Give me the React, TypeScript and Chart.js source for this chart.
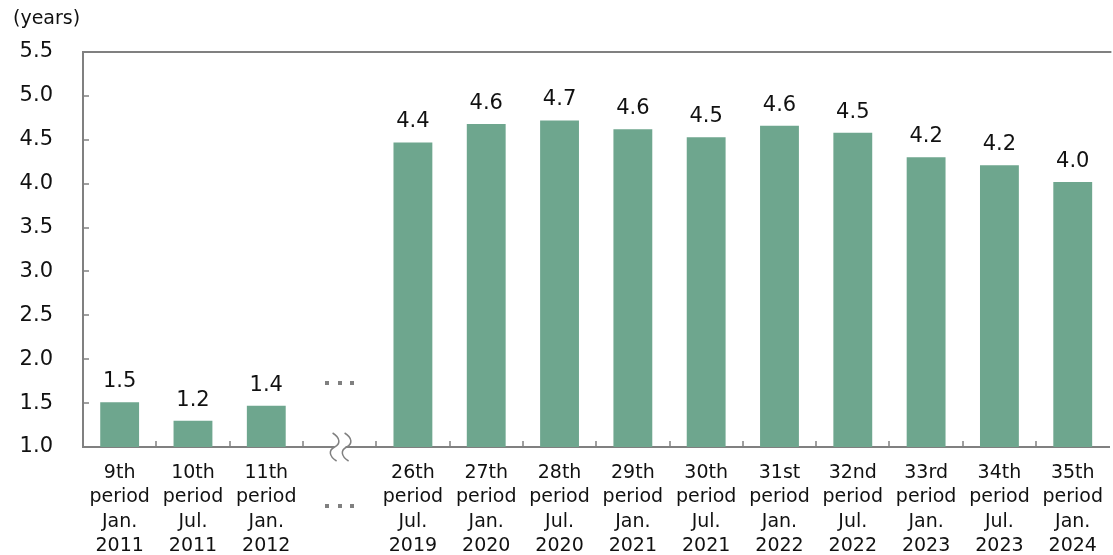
import React, { useEffect, useRef } from "react";
import { Chart, registerables } from "chart.js";

Chart.register(...registerables);

// ---- data ----
const periodLabels = ["9th", "10th", "11th", "", "26th", "27th", "28th", "29th", "30th", "31st", "32nd", "33rd", "34th", "35th"];
const monthLabels = ["Jan.", "Jul.", "Jan.", "", "Jul.", "Jan.", "Jul.", "Jan.", "Jul.", "Jan.", "Jul.", "Jan.", "Jul.", "Jan."];
const yearLabels = ["2011", "2011", "2012", "", "2019", "2020", "2020", "2021", "2021", "2022", "2022", "2023", "2023", "2024"];
const values: (number | null)[] = [1.51, 1.3, 1.47, null, 4.47, 4.68, 4.72, 4.62, 4.53, 4.66, 4.58, 4.3, 4.21, 4.02];
const valueLabels = ["1.5", "1.2", "1.4", "", "4.4", "4.6", "4.7", "4.6", "4.5", "4.6", "4.5", "4.2", "4.2", "4.0"];
const gapIndex = 3;
const yMin = 1.0;
const yMax = 5.5;
const yStep = 0.5;
const unitLabel = "(years)";

const FONT = "'DejaVu Sans', Verdana, sans-serif";
const AXIS = "#808080";
const BAR = "#6ea68e";
const TEXT = "#111111";

const decorPlugin = {
  id: "decor",
  afterDatasetsDraw(chart: any) {
    const ctx = chart.ctx;
    const meta = chart.getDatasetMeta(0);
    ctx.save();
    ctx.font = `21px ${FONT}`;
    ctx.fillStyle = TEXT;
    ctx.textAlign = "center";
    ctx.textBaseline = "alphabetic";
    meta.data.forEach((el: any, i: number) => {
      if (values[i] == null) return;
      ctx.fillText(valueLabels[i], el.x, el.y - 15);
    });
    ctx.restore();
  },
  afterDraw(chart: any) {
    const ctx = chart.ctx;
    const { left, right, top, bottom } = chart.chartArea;
    const xs = chart.scales.x;
    const ys = chart.scales.y;
    ctx.save();
    ctx.strokeStyle = AXIS;
    ctx.lineWidth = 2;
    // top border
    ctx.beginPath();
    ctx.moveTo(left - 1, top);
    ctx.lineTo(right + 2, top);
    ctx.stroke();
    // y ticks (inward)
    ctx.lineWidth = 1.5;
    ys.ticks.forEach((t: any) => {
      const y = Math.round(ys.getPixelForValue(t.value));
      if (y <= top + 1 || y >= bottom - 1) return;
      ctx.beginPath();
      ctx.moveTo(left, y);
      ctx.lineTo(left + 6, y);
      ctx.stroke();
    });
    // x ticks at category boundaries (inward)
    const n = chart.data.labels.length;
    for (let i = 1; i < n; i++) {
      const x = Math.round((xs.getPixelForValue(i - 1) + xs.getPixelForValue(i)) / 2);
      ctx.beginPath();
      ctx.moveTo(x, bottom);
      ctx.lineTo(x, bottom - 6);
      ctx.stroke();
    }
    // axis break
    const cx = xs.getPixelForValue(gapIndex);
    ctx.fillStyle = "#ffffff";
    ctx.fillRect(cx - 5, bottom - 3, 11, 6);
    ctx.lineWidth = 1.5;
    [cx - 5, cx + 7].forEach((c) => {
      ctx.beginPath();
      ctx.moveTo(c - 2, bottom - 14);
      ctx.bezierCurveTo(c + 6, bottom - 9, c + 6, bottom - 3, c, bottom);
      ctx.bezierCurveTo(c - 6, bottom + 3, c - 6, bottom + 9, c + 2, bottom + 14);
      ctx.stroke();
    });
    // ellipsis dots
    ctx.fillStyle = AXIS;
    [bottom - 64, bottom + 59].forEach((y) => {
      [-13, 0, 12].forEach((dx) => {
        ctx.fillRect(Math.round(cx + dx - 2), Math.round(y - 2), 4, 4);
      });
    });
    // unit label
    ctx.font = `19px ${FONT}`;
    ctx.fillStyle = TEXT;
    ctx.textAlign = "left";
    ctx.textBaseline = "middle";
    ctx.fillText(unitLabel, 13, 19);
    ctx.restore();
  },
};

export default function App() {
  const ref = useRef<HTMLCanvasElement | null>(null);
  useEffect(() => {
    if (!ref.current) return;
    const labels = periodLabels.map((p, i) => (p ? [p, "period", monthLabels[i], yearLabels[i]] : ""));
    const chart = new Chart(ref.current, {
      type: "bar",
      data: {
        labels,
        datasets: [
          {
            data: values,
            backgroundColor: BAR,
            borderWidth: 0,
            barPercentage: 0.53,
            categoryPercentage: 1,
          },
        ],
      },
      options: {
        animation: false,
        responsive: false,
        devicePixelRatio: 1,
        layout: { padding: { top: 52, left: 0, right: 0, bottom: 0 } },
        plugins: { legend: { display: false }, tooltip: { enabled: false }, title: { display: false } },
        scales: {
          x: {
            type: "category",
            grid: { display: false, drawTicks: false },
            border: { display: true, color: AXIS, width: 2 },
            ticks: {
              color: TEXT,
              font: { family: FONT, size: 19, lineHeight: 1.28 },
              padding: 14,
              maxRotation: 0,
              autoSkip: false,
            },
            afterFit: (s: any) => {
              s.height = 108;
            },
          },
          y: {
            min: yMin,
            max: yMax,
            grid: { display: false, drawTicks: false },
            border: { display: true, color: AXIS, width: 2 },
            ticks: {
              stepSize: yStep,
              color: TEXT,
              font: { family: FONT, size: 21 },
              padding: 30,
              callback: (v: any) => Number(v).toFixed(1),
            },
            afterFit: (s: any) => {
              s.width = 83;
            },
          },
        },
      },
      plugins: [decorPlugin],
    });
    return () => chart.destroy();
  }, []);
  return (
    <div style={{ position: "fixed", left: 0, top: 0, width: 1113, height: 555, overflow: "hidden", background: "#fff" }}>
      <canvas ref={ref} width={1117} height={555} style={{ display: "block" }} />
    </div>
  );
}
